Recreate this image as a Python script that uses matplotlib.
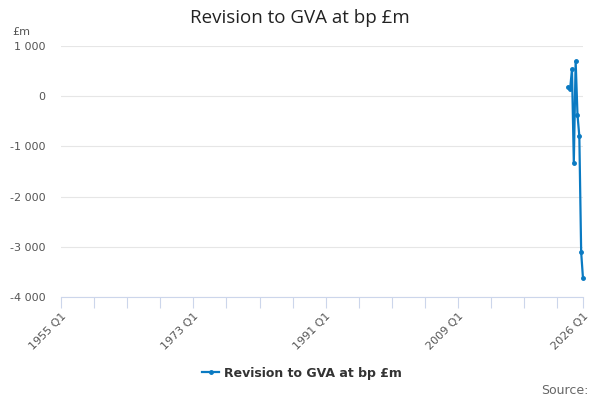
import matplotlib
matplotlib.use("Agg")
import matplotlib.pyplot as plt

# quarterly categories 1955 Q1 .. 2026 Q1
quarters = [f"{y} Q{q}" for y in range(1955, 2027) for q in range(1, 5)]
quarters = quarters[:quarters.index("2026 Q1") + 1]

# only the last quarters carry data
data_quarters = ["2024 Q1", "2024 Q2", "2024 Q3", "2024 Q4",
                 "2025 Q1", "2025 Q2", "2025 Q3", "2025 Q4", "2026 Q1"]
revision = [185, 145, 535, -1323, 694, -371, -794, -3109, -3631]

y_ticks = [1000, 0, -1000, -2000, -3000, -4000]
y_labels = ["1 000", "0", "-1 000", "-2 000", "-3 000", "-4 000"]

plt.rcParams['font.family'] = ['DejaVu Sans']

fig = plt.figure(figsize=(6, 4), dpi=100)
ax = fig.add_axes([61 / 600, 103 / 400, 522 / 600, 251 / 400])

xs = [quarters.index(q) for q in data_quarters]
ax.plot(xs, revision, color='#0a7ac2', lw=1.6, marker='o', ms=2.5,
        zorder=3, clip_on=False)

n = len(quarters)
ax.set_xlim(0, n - 1)
ax.set_ylim(-4000, 1000)

minor = list(range(0, n, 18)) + [n - 1]
ax.set_xticks(minor)
lab_pos = [0, 72, 144, 216, n - 1]
ax.set_xticklabels([quarters[i] if i in lab_pos else "" for i in minor],
                   rotation=45, ha='right', rotation_mode='anchor',
                   fontsize=8, color='#555555')
ax.tick_params(axis='x', length=8, color='#ccd6eb', pad=2)

ax.set_yticks(y_ticks)
ax.set_yticklabels(y_labels, fontsize=8, color='#555555')
ax.tick_params(axis='y', length=0, pad=11)
ax.grid(axis='y', color='#e6e6e6', lw=0.8)
ax.set_axisbelow(True)

for s in ['top', 'right', 'left']:
    ax.spines[s].set_visible(False)
ax.spines['bottom'].set_color('#ccd6eb')

fig.text(12 / 600, 1 - 32 / 400, "£m", fontsize=8, color='#555555', va='center')
fig.text(0.5, 1 - 18 / 400, "Revision to GVA at bp £m", fontsize=13.5,
         color='#222222', ha='center', va='center', family='Open Sans',
         weight='medium')

leg = ax.legend(["Revision to GVA at bp £m"], loc='center',
                bbox_to_anchor=(302 / 600, 1 - 373 / 400),
                bbox_transform=fig.transFigure, frameon=False,
                prop={'weight': 'bold', 'size': 9}, handlelength=1.3,
                handletextpad=0.4)
for t in leg.get_texts():
    t.set_color('#333333')

fig.text(589 / 600, 1 - 390 / 400, "Source:", fontsize=9, color='#666666',
         ha='right', va='center')

fig.savefig("out.png", dpi=100)
